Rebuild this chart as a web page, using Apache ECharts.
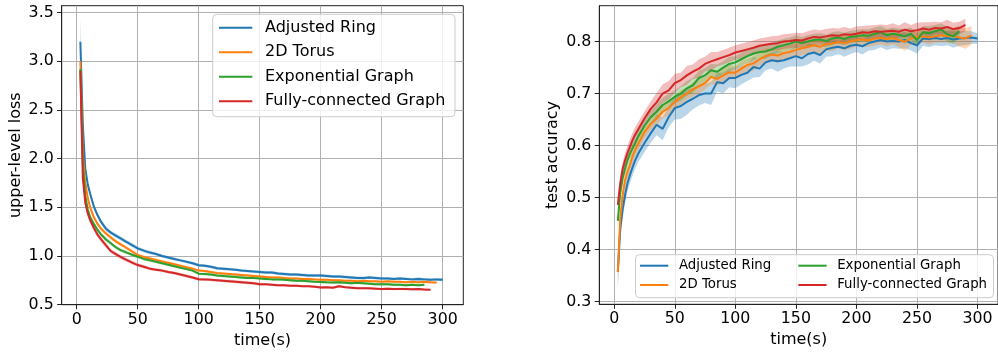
<!DOCTYPE html>
<html><head><meta charset="utf-8">
<script src="https://cdn.jsdelivr.net/npm/echarts@6/dist/echarts.min.js"></script>
<style>html,body{margin:0;padding:0;background:#fff}#c{width:998px;height:354px}</style>
</head><body><div id="c"></div>
<script>
// ---------- data ----------
const SERIES_NAMES = ['Adjusted Ring', '2D Torus', 'Exponential Graph', 'Fully-connected Graph'];
const X_TICKS = [0, 50, 100, 150, 200, 250, 300];
const LOSS_TICKS = [0.5, 1.0, 1.5, 2.0, 2.5, 3.0, 3.5];
const ACC_TICKS = [0.3, 0.4, 0.5, 0.6, 0.7, 0.8];

// left panel: upper-level loss vs time(s)
const T_LOSS = [3,5,7,9,11,14,17,20,24,28,32,36,40,45,50,55,60,65,70,75,80,85,90,95,100,105,110,115,120,125,130,135,140,145,150,155,160,165,170,175,180,185,190,195,200,205,210,215,220,225,230,235,240,245,250,255,260,265,270,275,280,285,290,295,300];
const LOSS_RING = [3.20,2.35,1.90,1.74,1.64,1.51,1.42,1.35,1.28,1.24,1.21,1.18,1.15,1.115,
  1.078,1.055,1.035,1.02,1.00,0.985,0.97,0.955,0.94,0.925,
  0.905,0.90,0.89,0.875,0.87,0.865,0.86,0.85,0.845,0.84,
  0.835,0.83,0.83,0.82,0.815,0.81,0.81,0.805,0.80,0.80,
  0.80,0.795,0.79,0.79,0.785,0.78,0.775,0.775,0.78,0.775,
  0.77,0.77,0.765,0.77,0.765,0.76,0.765,0.76,0.755,0.76,
  0.757];
const LOSS_TORUS = [3.00,2.05,1.76,1.60,1.50,1.40,1.33,1.28,1.23,1.19,1.15,1.12,1.09,1.05,
  1.01,0.99,0.975,0.96,0.945,0.93,0.915,0.90,0.885,0.87,
  0.85,0.845,0.835,0.825,0.82,0.815,0.81,0.805,0.80,0.795,
  0.79,0.785,0.78,0.78,0.775,0.77,0.77,0.765,0.765,0.76,
  0.757,0.755,0.75,0.75,0.745,0.745,0.74,0.745,0.74,0.74,
  0.735,0.74,0.735,0.735,0.73,0.735,0.73,0.735,0.73,0.728];
const LOSS_EXP = [2.92,1.95,1.62,1.48,1.40,1.33,1.27,1.22,1.17,1.13,1.09,1.06,1.04,1.015,
  0.993,0.97,0.955,0.94,0.925,0.91,0.895,0.88,0.865,0.85,
  0.818,0.815,0.81,0.80,0.795,0.79,0.785,0.78,0.775,0.775,
  0.77,0.765,0.76,0.76,0.755,0.75,0.745,0.745,0.74,0.735,
  0.733,0.73,0.728,0.73,0.725,0.72,0.725,0.72,0.715,0.71,
  0.709,0.71,0.705,0.705,0.70,0.705,0.70,0.705];
const LOSS_FULL = [2.90,1.80,1.55,1.44,1.37,1.29,1.22,1.17,1.11,1.05,1.02,0.99,0.965,0.935,
  0.907,0.89,0.87,0.86,0.85,0.835,0.825,0.81,0.795,0.78,
  0.762,0.76,0.755,0.75,0.745,0.74,0.735,0.73,0.725,0.72,
  0.71,0.71,0.705,0.70,0.70,0.695,0.695,0.69,0.69,0.685,
  0.677,0.68,0.675,0.69,0.68,0.675,0.67,0.67,0.668,0.665,
  0.66,0.665,0.66,0.662,0.66,0.658,0.66,0.655,0.654];
// half-width of the shaded band
const LOSS_RING_SD = [0.25,0.06,0.04,0.035,0.03,0.03,0.025,0.025,0.025,0.02,0.02,0.02,0.02,0.02,
  0.02,0.018,0.018,0.015,0.015,0.015,0.015,0.015,0.015,0.015,
  0.015,0.015,0.015,0.015,0.015,0.015,0.015,0.015,0.015,0.015,
  0.015,0.015,0.015,0.015,0.015,0.015,0.015,0.015,0.015,0.015,
  0.015,0.015,0.015,0.015,0.015,0.015,0.015,0.015,0.015,0.015,
  0.015,0.015,0.015,0.015,0.015,0.015,0.018,0.015,0.015,0.015,
  0.015];
const LOSS_TORUS_SD = [0.2,0.05,0.035,0.03,0.025,0.025,0.02,0.02,0.02,0.02,0.018,0.018,0.018,0.015,
  0.015,0.015,0.015,0.015,0.012,0.012,0.012,0.012,0.012,0.012,
  0.012,0.012,0.012,0.012,0.012,0.012,0.012,0.012,0.012,0.012,
  0.012,0.012,0.012,0.012,0.012,0.012,0.012,0.012,0.012,0.012,
  0.012,0.012,0.012,0.012,0.012,0.012,0.012,0.012,0.012,0.012,
  0.012,0.012,0.012,0.012,0.012,0.012,0.012,0.012,0.015,0.015];
const LOSS_EXP_SD = [0.15,0.05,0.035,0.03,0.025,0.025,0.02,0.02,0.02,0.02,0.018,0.018,0.018,0.015,
  0.015,0.015,0.015,0.015,0.012,0.012,0.012,0.012,0.012,0.012,
  0.012,0.012,0.012,0.012,0.012,0.012,0.012,0.012,0.012,0.012,
  0.012,0.012,0.012,0.012,0.012,0.012,0.012,0.012,0.012,0.012,
  0.012,0.012,0.012,0.012,0.012,0.012,0.012,0.012,0.012,0.012,
  0.012,0.012,0.012,0.012,0.012,0.012,0.012,0.012];
const LOSS_FULL_SD = [0.15,0.05,0.04,0.035,0.03,0.03,0.025,0.025,0.025,0.02,0.02,0.02,0.02,0.02,
  0.018,0.018,0.015,0.015,0.015,0.015,0.015,0.015,0.015,0.015,
  0.015,0.015,0.015,0.015,0.015,0.015,0.015,0.015,0.015,0.015,
  0.015,0.012,0.012,0.012,0.012,0.012,0.012,0.012,0.012,0.012,
  0.012,0.012,0.012,0.012,0.012,0.012,0.012,0.012,0.012,0.012,
  0.012,0.012,0.012,0.012,0.012,0.012,0.012,0.012,0.012];

// right panel: test accuracy vs time(s)
const T_ACC = [3,5,7,9,11,13,15,17,20,25,30,35,40,45,50,55,60,65,70,75,80,85,90,95,100,105,110,115,120,125,130,135,140,145,150,155,160,165,170,175,180,185,190,195,200,205,210,215,220,225,230,235,240,245,250,255,260,265,270,275,280,285,290,295,300];
const ACC_RING = [0.357,0.44,0.478,0.505,0.528,0.543,0.557,0.57,
  0.585,0.605,0.623,0.64,0.632,0.655,0.672,0.676,0.684,0.69,
  0.697,0.70,0.70,0.722,0.72,0.73,0.73,0.736,0.74,0.751,
  0.748,0.76,0.764,0.762,0.764,0.768,0.772,0.768,0.776,0.779,
  0.774,0.785,0.788,0.79,0.787,0.792,0.794,0.791,0.797,0.80,
  0.803,0.80,0.801,0.80,0.803,0.797,0.793,0.806,0.805,0.807,
  0.805,0.807,0.804,0.806,0.807,0.808,0.806];
const ACC_TORUS = [0.357,0.46,0.505,0.533,0.55,0.563,0.578,0.59,
  0.604,0.626,0.641,0.652,0.665,0.672,0.684,0.693,0.70,0.708,
  0.714,0.72,0.732,0.728,0.735,0.741,0.74,0.748,0.755,0.758,
  0.766,0.772,0.775,0.773,0.778,0.78,0.784,0.787,0.79,0.793,
  0.79,0.795,0.796,0.799,0.797,0.80,0.803,0.804,0.802,0.806,
  0.807,0.805,0.807,0.803,0.80,0.806,0.809,0.81,0.808,0.81,
  0.812,0.81,0.811,0.808,0.806,0.812];
const ACC_EXP = [0.455,0.51,0.538,0.556,0.572,0.584,0.594,0.603,
  0.618,0.638,0.654,0.665,0.678,0.685,0.694,0.70,0.71,0.716,
  0.73,0.735,0.745,0.742,0.75,0.757,0.76,0.766,0.772,0.777,
  0.78,0.781,0.785,0.79,0.793,0.796,0.80,0.797,0.80,0.803,
  0.804,0.801,0.806,0.808,0.805,0.809,0.81,0.812,0.811,0.815,
  0.818,0.812,0.815,0.813,0.81,0.815,0.803,0.818,0.816,0.82,
  0.823,0.814,0.81,0.82];
const ACC_FULL = [0.486,0.527,0.555,0.572,0.586,0.598,0.61,0.62,
  0.632,0.652,0.67,0.683,0.70,0.706,0.72,0.726,0.735,0.742,
  0.748,0.757,0.762,0.766,0.77,0.774,0.779,0.782,0.785,0.788,
  0.792,0.794,0.796,0.797,0.80,0.801,0.803,0.802,0.806,0.809,
  0.808,0.81,0.812,0.811,0.814,0.813,0.815,0.818,0.817,0.82,
  0.819,0.82,0.821,0.819,0.823,0.82,0.822,0.825,0.823,0.826,
  0.825,0.828,0.824,0.826,0.832];
const ACC_RING_SD = [0.03,0.02,0.018,0.016,0.016,0.016,0.016,0.016,
  0.016,0.018,0.018,0.02,0.022,0.02,0.022,0.025,0.025,0.02,
  0.02,0.018,0.022,0.018,0.02,0.018,0.02,0.018,0.016,0.02,
  0.016,0.015,0.016,0.02,0.016,0.016,0.02,0.016,0.02,0.016,
  0.016,0.014,0.016,0.014,0.016,0.016,0.014,0.016,0.014,0.016,
  0.014,0.016,0.014,0.014,0.016,0.014,0.016,0.014,0.016,0.014,
  0.014,0.014,0.016,0.014,0.014,0.012,0.01];
const ACC_TORUS_SD = [0.03,0.016,0.014,0.014,0.012,0.012,0.012,0.012,
  0.012,0.012,0.012,0.014,0.012,0.014,0.012,0.014,0.012,0.014,
  0.014,0.012,0.014,0.012,0.014,0.014,0.012,0.014,0.012,0.014,
  0.012,0.014,0.012,0.014,0.012,0.014,0.012,0.014,0.012,0.014,
  0.014,0.012,0.014,0.012,0.014,0.014,0.012,0.014,0.012,0.014,
  0.012,0.014,0.012,0.014,0.018,0.012,0.014,0.012,0.014,0.012,
  0.014,0.012,0.014,0.018,0.02,0.018];
const ACC_EXP_SD = [0.016,0.014,0.014,0.012,0.012,0.012,0.012,0.014,
  0.014,0.014,0.014,0.014,0.014,0.014,0.012,0.014,0.014,0.014,
  0.014,0.014,0.012,0.014,0.012,0.014,0.012,0.012,0.014,0.012,
  0.012,0.014,0.012,0.012,0.012,0.012,0.012,0.012,0.012,0.012,
  0.012,0.012,0.012,0.012,0.012,0.012,0.012,0.012,0.012,0.012,
  0.012,0.012,0.012,0.012,0.014,0.012,0.014,0.012,0.014,0.012,
  0.012,0.014,0.014,0.012];
const ACC_FULL_SD = [0.016,0.014,0.014,0.014,0.014,0.014,0.014,0.014,
  0.014,0.014,0.014,0.018,0.018,0.018,0.018,0.014,0.018,0.014,
  0.018,0.014,0.018,0.014,0.014,0.014,0.014,0.014,0.014,0.014,
  0.014,0.014,0.014,0.014,0.014,0.014,0.014,0.014,0.014,0.014,
  0.014,0.014,0.014,0.014,0.014,0.012,0.014,0.012,0.014,0.012,
  0.014,0.012,0.014,0.012,0.014,0.012,0.014,0.012,0.014,0.012,
  0.012,0.014,0.012,0.012,0.012];

// ---------- styling ----------
const COLORS = ['#1f77b4', '#ff7f0e', '#2ca02c', '#d62728'];
const FONT = 'DejaVu Sans';
const TICK_FS = 15.8;

const chart = echarts.init(document.getElementById('c'), null, {renderer: 'canvas'});

function bandSeries(T, vals, sd, color, ax) {
  const rows = vals.map((v, j) => [T[j], v - sd[j], v + sd[j]]);
  return {
    type: 'custom', xAxisIndex: ax, yAxisIndex: ax, data: rows, clip: true, silent: true, z: 2,
    encode: {x: 0, y: [1, 2]},
    renderItem: function (params, api) {
      if (params.dataIndex !== 0) return null;
      const upper = rows.map(r => api.coord([r[0], r[2]]));
      const lower = rows.map(r => api.coord([r[0], r[1]])).reverse();
      return {type: 'polygon', shape: {points: upper.concat(lower)},
              style: {fill: color, opacity: 0.3}};
    }
  };
}
function lineSeries(name, T, vals, color, ax) {
  return {name: name, type: 'line', xAxisIndex: ax, yAxisIndex: ax,
    data: vals.map((v, j) => [T[j], v]),
    symbol: 'none', lineStyle: {color: color, width: 2}, itemStyle: {color: color}, z: 2};
}

const lossSets = [[LOSS_RING, LOSS_RING_SD], [LOSS_TORUS, LOSS_TORUS_SD], [LOSS_EXP, LOSS_EXP_SD], [LOSS_FULL, LOSS_FULL_SD]];
const accSets = [[ACC_RING, ACC_RING_SD], [ACC_TORUS, ACC_TORUS_SD], [ACC_EXP, ACC_EXP_SD], [ACC_FULL, ACC_FULL_SD]];
const series = [];
lossSets.forEach((s, i) => {
  series.push(lineSeries(SERIES_NAMES[i], T_LOSS, s[0], COLORS[i], 0));
  series.push(bandSeries(T_LOSS, s[0], s[1], COLORS[i], 0));
});
accSets.forEach((s, i) => {
  series.push(lineSeries(SERIES_NAMES[i], T_ACC, s[0], COLORS[i], 1));
  series.push(bandSeries(T_ACC, s[0], s[1], COLORS[i], 1));
});

function xAxis(idx) {
  return {
    gridIndex: idx, type: 'value', min: -12.3, max: 316.9,
    name: 'time(s)', nameLocation: 'middle', nameGap: 24,
    nameTextStyle: {fontFamily: FONT, fontSize: 16, color: '#000'},
    axisLine: {show: true, onZero: false, lineStyle: {color: '#222', width: 1}},
    axisTick: {show: true, customValues: X_TICKS, length: 4.5, lineStyle: {color: '#222', width: 1}},
    axisLabel: {customValues: X_TICKS, fontFamily: FONT, fontSize: TICK_FS, color: '#000', margin: 7},
    splitLine: {show: true, lineStyle: {color: '#b0b0b0', width: 1}}
  };
}
function yAxis(idx, min, max, ticks, name) {
  return {
    gridIndex: idx, type: 'value', min: min, max: max,
    name: name, nameLocation: 'middle', nameGap: 38, nameRotate: 90,
    nameTextStyle: {fontFamily: FONT, fontSize: 16, color: '#000'},
    axisLine: {show: true, onZero: false, lineStyle: {color: '#222', width: 1}},
    axisTick: {show: true, customValues: ticks, length: 4.5, lineStyle: {color: '#222', width: 1}},
    axisLabel: {customValues: ticks, fontFamily: FONT, fontSize: TICK_FS, color: '#000', margin: 8,
      formatter: v => Number(v).toFixed(1)},
    splitLine: {show: true, lineStyle: {color: '#b0b0b0', width: 1}}
  };
}

const legendText = (fs, lh, pad) => ({fontFamily: FONT, fontSize: fs, color: '#000', lineHeight: lh, padding: [0, 0, 0, pad]});

const option = {
  backgroundColor: '#fff',
  animation: false,
  grid: [
    {left: 61.7, right: 534.7, top: 5.7, bottom: 49.3, show: true, borderColor: '#222', borderWidth: 1, backgroundColor: 'transparent'},
    {left: 599.3, right: -2.9, top: 5.7, bottom: 49.7, show: true, borderColor: '#222', borderWidth: 1, backgroundColor: 'transparent'}
  ],
  xAxis: [xAxis(0), xAxis(1)],
  yAxis: [yAxis(0, 0.5, 3.57, LOSS_TICKS, 'upper-level loss'), yAxis(1, 0.2946, 0.869, ACC_TICKS, 'test accuracy')],
  graphic: [
    {type: 'rect', z: 10, shape: {x: 212.7, y: 14.3, width: 242.3, height: 102.4, r: 4},
     style: {fill: 'rgba(255,255,255,0.8)', stroke: '#cccccc', lineWidth: 1}},
    {type: 'rect', z: 10, shape: {x: 635.5, y: 254.7, width: 358, height: 43, r: 4},
     style: {fill: 'rgba(255,255,255,0.8)', stroke: '#cccccc', lineWidth: 1}}
  ],
  legend: [
    {data: SERIES_NAMES, orient: 'vertical', left: 219, top: 17.7, padding: 0, itemGap: 4.5,
     itemWidth: 33.3, itemHeight: 2, icon: 'rect', z: 20, selectedMode: false,
     textStyle: legendText(16, 20, 7.7)},
    {data: SERIES_NAMES.slice(0, 2), orient: 'vertical', left: 640, top: 257.7, padding: 0, itemGap: 3.3,
     itemWidth: 28.3, itemHeight: 2, icon: 'rect', z: 20, selectedMode: false,
     textStyle: legendText(13.3, 16, 5.7)},
    {data: SERIES_NAMES.slice(2, 4), orient: 'vertical', left: 798.3, top: 257.7, padding: 0, itemGap: 3.3,
     itemWidth: 28.3, itemHeight: 2, icon: 'rect', z: 20, selectedMode: false,
     textStyle: legendText(13.3, 16, 5.6)}
  ],
  series: series
};
chart.setOption(option);
</script></body></html>
